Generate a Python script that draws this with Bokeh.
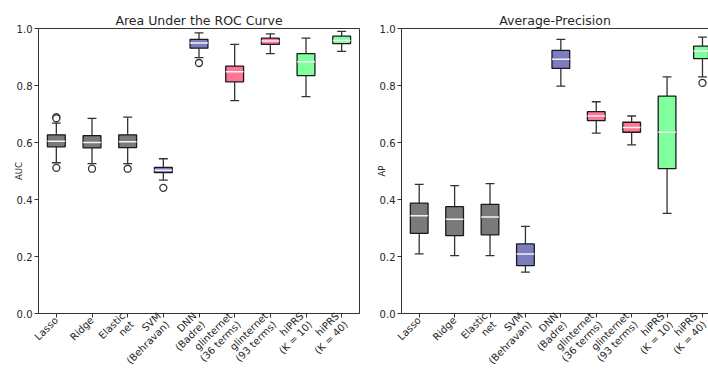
from bokeh.plotting import figure
from bokeh.layouts import row
from bokeh.models import FixedTicker, Range1d, LinearAxis
from bokeh.embed import file_html
from bokeh.resources import INLINE

methods = ["Lasso", "Ridge", "Elastic\nnet", "SVM\n(Behravan)", "DNN\n(Badre)",
           "glinternet\n(36 terms)", "glinternet\n(93 terms)", "hiPRS\n(K = 10)", "hiPRS\n(K = 40)"]
box_colors = ["#7a7a7a", "#7a7a7a", "#7a7a7a", "#7c7cc0", "#7c7cc0",
              "#ff7595", "#ff7595", "#80ff9e", "#80ff9e"]

# AUC panel
auc_low = [0.529, 0.526, 0.526, 0.468, 0.898, 0.747, 0.912, 0.761, 0.920]
auc_q1 = [0.585, 0.581, 0.582, 0.494, 0.931, 0.813, 0.944, 0.835, 0.947]
auc_med = [0.604, 0.600, 0.603, 0.503, 0.949, 0.848, 0.956, 0.883, 0.958]
auc_q3 = [0.627, 0.624, 0.627, 0.513, 0.962, 0.868, 0.966, 0.912, 0.973]
auc_high = [0.668, 0.685, 0.689, 0.543, 0.985, 0.944, 0.981, 0.966, 0.990]
auc_out_x = [1, 1, 1, 2, 3, 4, 5]
auc_out_y = [0.689, 0.685, 0.511, 0.508, 0.508, 0.441, 0.879]

# AP panel
ap_low = [0.209, 0.203, 0.203, 0.145, 0.798, 0.633, 0.592, 0.351, 0.830]
ap_q1 = [0.281, 0.273, 0.276, 0.168, 0.860, 0.677, 0.636, 0.508, 0.894]
ap_med = [0.343, 0.331, 0.339, 0.209, 0.892, 0.693, 0.653, 0.636, 0.921]
ap_q3 = [0.387, 0.375, 0.383, 0.244, 0.923, 0.708, 0.671, 0.763, 0.938]
ap_high = [0.453, 0.449, 0.456, 0.306, 0.962, 0.743, 0.693, 0.830, 0.970]
ap_out_x = [9]
ap_out_y = [0.809]

y_ticks = [0.0, 0.2, 0.4, 0.6, 0.8, 1.0]
y_tick_labels = ["0.0", "0.2", "0.4", "0.6", "0.8", "1.0"]

TXT = "#262626"
FONT = "DejaVu Sans"


def make_panel(title, ylabel, low, q1, med, q3, high, ox, oy, width, border_left, border_right, xmax):
    xs = list(range(1, len(methods) + 1))
    p = figure(width=width, height=377, output_backend="svg", toolbar_location=None,
               x_range=Range1d(0.5, xmax), y_range=Range1d(0.0, 1.0),
               min_border_left=border_left, min_border_right=border_right,
               min_border_top=28, min_border_bottom=62, title=title)
    p.title.align = "center"
    p.title.text_font = FONT
    p.title.text_font_size = "12.5px"
    p.title.text_font_style = "normal"
    p.title.text_color = TXT
    p.title.standoff = 2
    p.title.offset = 0
    p.xgrid.visible = False
    p.ygrid.visible = False
    p.background_fill_color = "white"
    p.border_fill_color = "white"

    # whiskers
    p.segment(x0=xs, y0=q3, x1=xs, y1=high, line_color="#333333", line_width=1.3)
    p.segment(x0=xs, y0=low, x1=xs, y1=q1, line_color="#333333", line_width=1.3)
    xl = [x - 0.125 for x in xs]
    xr = [x + 0.125 for x in xs]
    p.segment(x0=xl, y0=high, x1=xr, y1=high, line_color="#333333", line_width=1.3)
    p.segment(x0=xl, y0=low, x1=xr, y1=low, line_color="#333333", line_width=1.3)
    # boxes
    p.vbar(x=xs, width=0.5, bottom=q1, top=q3, fill_color=box_colors,
           line_color="#1a1a1a", line_width=1.3)
    # medians
    p.segment(x0=[x - 0.25 for x in xs], y0=med, x1=[x + 0.25 for x in xs], y1=med,
              line_color="#f2f2f2", line_width=1.5)
    # outliers
    p.scatter(x=ox, y=oy, marker="circle", size=7, fill_color="white",
              line_color="#333333", line_width=1.3)

    ax = p.xaxis[0]
    ax.ticker = FixedTicker(ticks=xs)
    ax.major_label_overrides = {i + 1: m for i, m in enumerate(methods)}
    ax.major_label_orientation = 0.785398
    ax.major_label_text_font = FONT
    ax.major_label_text_font_size = "10px"
    ax.major_label_text_line_height = 1.1
    ax.major_label_text_color = TXT
    ax.major_tick_in = 0
    ax.major_tick_out = 4
    ax.minor_tick_out = 0
    ax.minor_tick_in = 0
    ax.major_label_standoff = 1
    ax.axis_line_color = "#333333"
    ax.major_tick_line_color = "#333333"

    ay = p.yaxis[0]
    ay.ticker = FixedTicker(ticks=y_ticks)
    ay.major_label_overrides = {t: l for t, l in zip(y_ticks, y_tick_labels)}
    ay.major_label_text_font = FONT
    ay.major_label_text_font_size = "10px"
    ay.major_label_text_color = TXT
    ay.major_tick_in = 0
    ay.major_tick_out = 4
    ay.minor_tick_out = 0
    ay.minor_tick_in = 0
    ay.major_label_standoff = 2
    ay.axis_label = ylabel
    ay.axis_label_text_font = FONT
    ay.axis_label_text_font_size = "8.5px"
    ay.axis_label_text_font_style = "normal"
    ay.axis_label_text_color = TXT
    ay.axis_label_standoff = -10
    ay.axis_line_color = "#333333"
    ay.major_tick_line_color = "#333333"
    return p


p1 = make_panel("Area Under the ROC Curve", "AUC", auc_low, auc_q1, auc_med, auc_q3, auc_high,
                auc_out_x, auc_out_y, width=362, border_left=38, border_right=3, xmax=9.5)
p1.outline_line_color = "#333333"

p2 = make_panel("Average-Precision", "AP", ap_low, ap_q1, ap_med, ap_q3, ap_high,
                ap_out_x, ap_out_y, width=346, border_left=39, border_right=0, xmax=9.17)
p2.outline_line_color = None
top = LinearAxis(axis_line_color="#333333", major_tick_line_color=None, minor_tick_line_color=None,
                 major_label_text_font_size="0px", ticker=FixedTicker(ticks=[]))
p2.add_layout(top, "above")

layout = row(p1, p2)
open("out.html", "w").write(file_html(layout, INLINE))
